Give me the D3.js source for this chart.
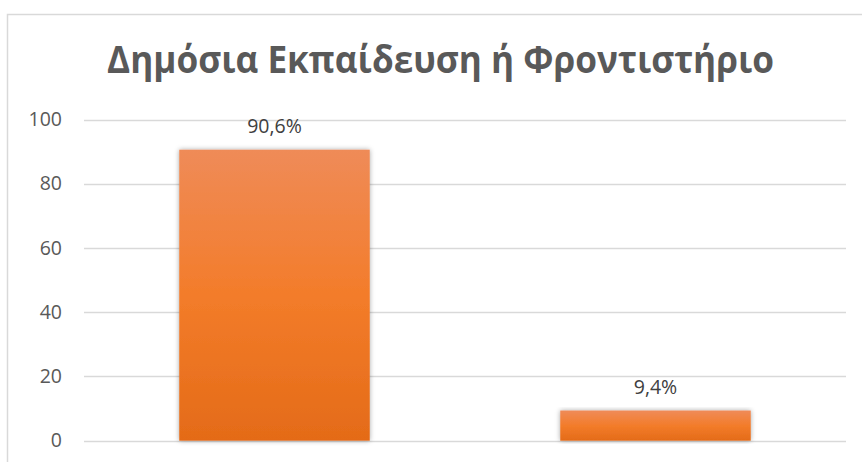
<!DOCTYPE html>
<html>
<head>
<meta charset="utf-8">
<script src="https://cdn.jsdelivr.net/npm/d3@7"></script>
<style>
  body { margin: 0; background: #fff; }
  svg { display: block; font-family: "Open Sans", "Noto Sans", sans-serif; }
</style>
</head>
<body>
<svg></svg>
<script>
var width = 862;
var height = 462;

var title = "Δημόσια Εκπαίδευση ή Φροντιστήριο";
var categories = ["Δημόσια Εκπαίδευση", "Φροντιστήριο"];
var values = [90.6, 9.4];
var labels = ["90,6%", "9,4%"];
var yTicks = [0, 20, 40, 60, 80, 100];

var svg = d3.select("svg").attr("width", width).attr("height", height);

var defs = svg.append("defs");
var grad = defs.append("linearGradient")
  .attr("id", "barfill")
  .attr("x1", 0).attr("y1", 0).attr("x2", 0).attr("y2", 1);
grad.append("stop").attr("offset", "0%").attr("stop-color", "#ef8b58");
grad.append("stop").attr("offset", "50%").attr("stop-color", "#f37c2a");
grad.append("stop").attr("offset", "100%").attr("stop-color", "#e46b18");

var shadow = defs.append("filter").attr("id", "shadow")
  .attr("x", "-10%").attr("y", "-10%").attr("width", "120%").attr("height", "120%");
shadow.append("feDropShadow")
  .attr("dx", 0).attr("dy", 0).attr("stdDeviation", 2.5)
  .attr("flood-color", "#000").attr("flood-opacity", 0.35);

// chart frame (runs off the right and bottom edges)
svg.append("rect")
  .attr("x", 7.5).attr("y", 14.5)
  .attr("width", 900).attr("height", 500)
  .attr("fill", "none").attr("stroke", "#d9d9d9").attr("stroke-width", 1.5);

var margin = { left: 84, right: 16, top: 119.5, bottom: 21.3 };

var x = d3.scaleBand()
  .domain(categories)
  .range([margin.left, width - margin.right])
  .paddingInner(0.5).paddingOuter(0.25);

var y = d3.scaleLinear()
  .domain([0, 100])
  .range([height - margin.bottom, margin.top]);

// gridlines
svg.append("g").selectAll("line")
  .data(yTicks).enter().append("line")
  .attr("x1", margin.left).attr("x2", width - margin.right)
  .attr("y1", function(d) { return Math.round(y(d)) + 0.5; })
  .attr("y2", function(d) { return Math.round(y(d)) + 0.5; })
  .attr("stroke", "#d9d9d9").attr("stroke-width", 1.3);

// y axis labels
var yAxis = d3.axisLeft(y).tickValues(yTicks).tickSize(0).tickPadding(0);
var ax = svg.append("g")
  .attr("transform", "translate(62,0)")
  .call(yAxis);
ax.select(".domain").remove();
ax.selectAll("text")
  .attr("fill", "#595959")
  .style("font-family", "\"Open Sans\", sans-serif")
  .style("font-size", "19.5px");

// bars
svg.append("g").selectAll("rect")
  .data(values).enter().append("rect")
  .attr("x", function(d, i) { return x(categories[i]); })
  .attr("y", function(d) { return y(d); })
  .attr("width", x.bandwidth())
  .attr("height", function(d) { return y(0) - y(d); })
  .attr("fill", "url(#barfill)")
  .attr("filter", "url(#shadow)");

// data labels
svg.append("g").selectAll("text")
  .data(values).enter().append("text")
  .attr("x", function(d, i) { return x(categories[i]) + x.bandwidth() / 2; })
  .attr("y", function(d) { return y(d) - 17; })
  .attr("text-anchor", "middle")
  .attr("fill", "#404040")
  .style("font-size", "19.5px")
  .text(function(d, i) { return labels[i]; });

// title
svg.append("text")
  .attr("x", 440.5).attr("y", 73)
  .attr("text-anchor", "middle")
  .attr("fill", "#595959")
  .style("font-size", "37px")
  .style("font-weight", "bold")
  .attr("textLength", 667)
  .attr("lengthAdjust", "spacingAndGlyphs")
  .text(title);
</script>
</body>
</html>
